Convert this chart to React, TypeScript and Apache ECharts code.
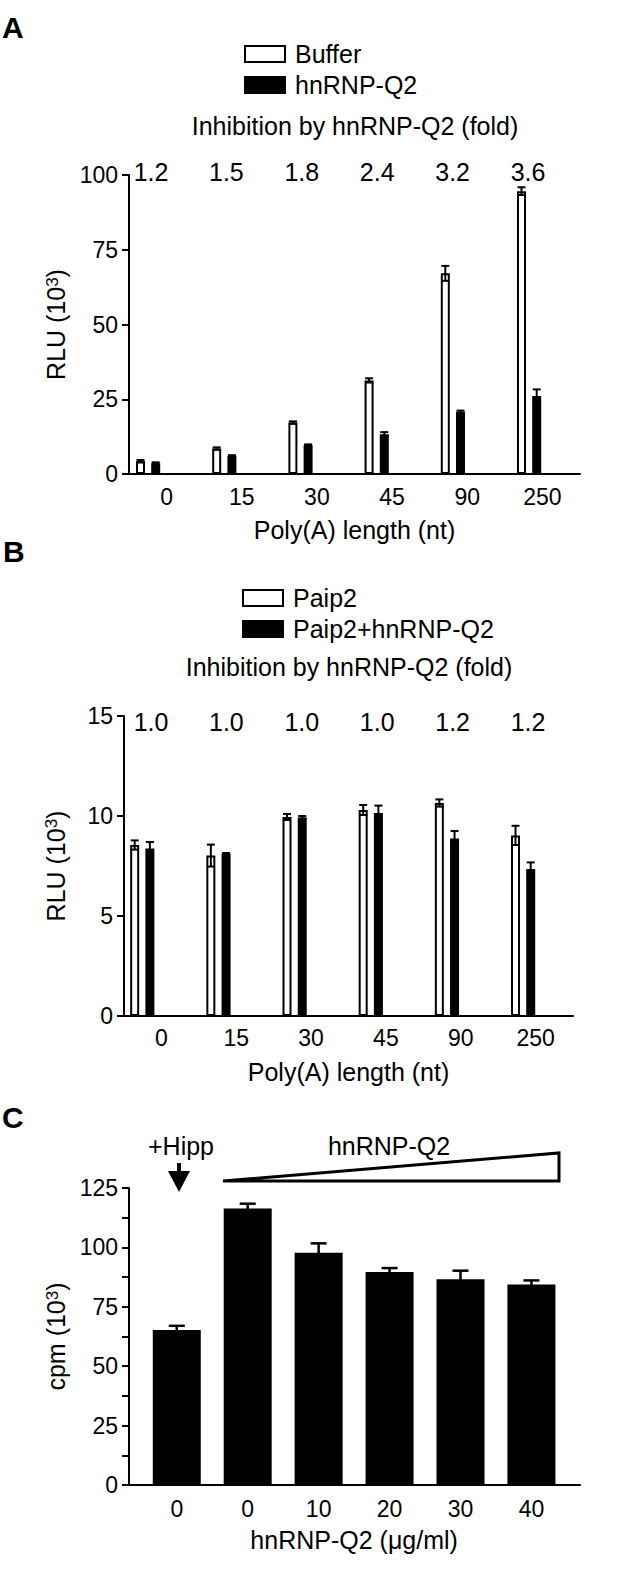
import React, { useEffect, useRef } from "react";
import * as echarts from "echarts";

// ---------- data ----------
const polyACats = ["0", "15", "30", "45", "90", "250"];

const bufferA = [4.3, 8.5, 17.2, 31.3, 67.1, 94.6];
const bufferErrA = [0.4, 0.4, 0.4, 0.7, 2.5, 1.3];
const q2A = [3.6, 6.0, 9.6, 13.3, 20.8, 26.1];
const q2ErrA = [0.3, 0.3, 0.3, 0.7, 0.4, 2.2];
const foldA = ["1.2", "1.5", "1.8", "2.4", "3.2", "3.6"];

const paip2B = [8.55, 8.02, 9.95, 10.3, 10.65, 9.03];
const paip2ErrB = [0.23, 0.55, 0.15, 0.25, 0.18, 0.48];
const paipQ2B = [8.38, 8.1, 9.93, 10.15, 8.88, 7.35];
const paipQ2ErrB = [0.32, 0.05, 0.07, 0.37, 0.37, 0.33];
const foldB = ["1.0", "1.0", "1.0", "1.0", "1.2", "1.2"];

const concC = ["0", "0", "10", "20", "30", "40"];
const cpmC = [65.2, 116.4, 97.8, 89.6, 86.6, 84.4];
const cpmErrC = [1.8, 2.0, 3.9, 1.7, 3.6, 1.7];

const yTicksA = { min: 0, max: 100, interval: 25 };
const yTicksB = { min: 0, max: 15, interval: 5 };
const yTicksC = { min: 0, max: 125, interval: 25 };

// ---------- styling ----------
const FONT = "'Liberation Sans', Arial, Helvetica, sans-serif";
const BLACK = "#000";

function errRender(offset: number, capHalf: number, lw: number) {
  return (params: any, api: any) => {
    const x = api.value(0);
    const v = api.value(1);
    const e = api.value(2);
    const top = api.coord([x, v + e]);
    const bot = api.coord([x, v - e]);
    const cx = top[0] + offset;
    const st = { stroke: BLACK, lineWidth: lw, fill: null };
    return {
      type: "group",
      children: [
        { type: "line", shape: { x1: cx, y1: bot[1], x2: cx, y2: top[1] }, style: st },
        { type: "line", shape: { x1: cx - capHalf, y1: top[1], x2: cx + capHalf, y2: top[1] }, style: st },
        { type: "line", shape: { x1: cx - capHalf, y1: bot[1], x2: cx + capHalf, y2: bot[1] }, style: st },
      ],
    };
  };
}

function errData(vals: number[], errs: number[]) {
  return vals.map((v, i) => [i, v, errs[i]]);
}

function axisY(gridIndex: number, t: any, name: string, minor = false) {
  return {
    gridIndex,
    type: "value",
    min: t.min,
    max: t.max,
    interval: t.interval,
    name,
    nameLocation: "middle",
    nameGap: 56,
    nameTextStyle: {
      fontFamily: FONT,
      fontSize: 25,
      color: BLACK,
      rich: { sup: { fontFamily: FONT, fontSize: 17, color: BLACK, verticalAlign: "top" } },
    },
    axisLine: { show: true, lineStyle: { color: BLACK, width: 2 } },
    axisTick: { show: true, length: 7, lineStyle: { color: BLACK, width: 2 } },
    minorTick: { show: minor, splitNumber: 2, length: 7, lineStyle: { color: BLACK, width: 2 } },
    axisLabel: { margin: 11, fontFamily: FONT, fontSize: 23, color: BLACK },
    splitLine: { show: false },
  };
}

function hiddenY(gridIndex: number, t: any) {
  return { gridIndex, type: "value", min: t.min, max: t.max, show: false, splitLine: { show: false } };
}

export default function App() {
  const ref = useRef<HTMLDivElement>(null);

  useEffect(() => {
    if (!ref.current) return;
    const chart = echarts.init(ref.current, undefined, { renderer: "svg" });

    const grids = [
      // A
      { left: 129, width: 451, top: 175, height: 299 },
      { left: 110, width: 457.2, top: 175, height: 299 },
      { left: 113.3, width: 452.4, top: 171.5, height: 1 },
      // B
      { left: 124, width: 449, top: 716, height: 300 },
      { left: 104.2, width: 457, top: 716, height: 300 },
      { left: 113.3, width: 452.4, top: 722, height: 1 },
      // C
      { left: 129, width: 451, top: 1188, height: 297 },
      { left: 141.3, width: 425.6, top: 1188, height: 297 },
    ];

    const catAxis = (gridIndex: number, data: string[], name: string, margin: number) => ({
      gridIndex,
      type: "category",
      data,
      name,
      nameLocation: "middle",
      nameGap: 43,
      nameTextStyle: { fontFamily: FONT, fontSize: 25, color: BLACK },
      axisLine: { show: true, lineStyle: { color: BLACK, width: 2 } },
      axisTick: { show: false },
      axisLabel: { margin, fontFamily: FONT, fontSize: 23, color: BLACK },
      splitLine: { show: false },
    });
    const hiddenCat = (gridIndex: number, data: string[]) => ({
      gridIndex,
      type: "category",
      data,
      show: false,
    });
    const foldAxis = (gridIndex: number, data: string[]) => ({
      gridIndex,
      type: "category",
      data,
      position: "top",
      axisLine: { show: false },
      axisTick: { show: false },
      axisLabel: { margin: 0, verticalAlign: "middle", fontFamily: FONT, fontSize: 25, color: BLACK },
      splitLine: { show: false },
    });

    const xAxes = [
      catAxis(0, polyACats, "Poly(A) length (nt)", 11),
      hiddenCat(1, polyACats),
      foldAxis(2, foldA),
      catAxis(3, polyACats, "Poly(A) length (nt)", 10),
      hiddenCat(4, polyACats),
      foldAxis(5, foldB),
      {
        gridIndex: 6,
        type: "value",
        min: 0,
        max: 1,
        axisLine: { show: true, onZero: false, lineStyle: { color: BLACK, width: 2 } },
        axisTick: { show: false },
        axisLabel: { show: false },
        splitLine: { show: false },
      },
      {
        gridIndex: 7,
        type: "category",
        data: concC,
        name: "hnRNP-Q2 (μg/ml)",
        nameLocation: "middle",
        nameGap: 42,
        nameTextStyle: { fontFamily: FONT, fontSize: 25, color: BLACK },
        axisLine: { show: false },
        axisTick: { show: false },
        axisLabel: { margin: 12, fontFamily: FONT, fontSize: 23, color: BLACK },
        splitLine: { show: false },
      },
    ];

    const yAxes = [
      axisY(0, yTicksA, "RLU (10{sup|3})"),
      hiddenY(1, yTicksA),
      hiddenY(2, { min: 0, max: 1 }),
      axisY(3, yTicksB, "RLU (10{sup|3})"),
      hiddenY(4, yTicksB),
      hiddenY(5, { min: 0, max: 1 }),
      axisY(6, yTicksC, "cpm (10{sup|3})", true),
      hiddenY(7, yTicksC),
    ];

    const whiteBar = { color: "#fff", borderColor: BLACK, borderWidth: 2 };
    const blackBar = { color: BLACK, borderColor: BLACK, borderWidth: 2 };

    const series: any[] = [
      { name: "Buffer", type: "bar", xAxisIndex: 1, yAxisIndex: 1, data: bufferA, barWidth: 9, barGap: "69%", itemStyle: whiteBar },
      { name: "hnRNP-Q2", type: "bar", xAxisIndex: 1, yAxisIndex: 1, data: q2A, barWidth: 9, barGap: "69%", itemStyle: blackBar },
      { type: "custom", xAxisIndex: 1, yAxisIndex: 1, data: errData(bufferA, bufferErrA), renderItem: errRender(-7.6, 4, 2), z: 5 },
      { type: "custom", xAxisIndex: 1, yAxisIndex: 1, data: errData(q2A, q2ErrA), renderItem: errRender(7.6, 4, 2), z: 5 },

      { name: "Paip2", type: "bar", xAxisIndex: 4, yAxisIndex: 4, data: paip2B, barWidth: 9, barGap: "69%", itemStyle: whiteBar },
      { name: "Paip2+hnRNP-Q2", type: "bar", xAxisIndex: 4, yAxisIndex: 4, data: paipQ2B, barWidth: 9, barGap: "69%", itemStyle: blackBar },
      { type: "custom", xAxisIndex: 4, yAxisIndex: 4, data: errData(paip2B, paip2ErrB), renderItem: errRender(-7.6, 4, 2), z: 5 },
      { type: "custom", xAxisIndex: 4, yAxisIndex: 4, data: errData(paipQ2B, paipQ2ErrB), renderItem: errRender(7.6, 4, 2), z: 5 },

      { name: "cpm", type: "bar", xAxisIndex: 7, yAxisIndex: 7, data: cpmC, barWidth: 48, itemStyle: { color: BLACK } },
      { type: "custom", xAxisIndex: 7, yAxisIndex: 7, data: errData(cpmC, cpmErrC), renderItem: errRender(0, 8, 2.5), z: 5 },
    ];

    const legendCommon = {
      orient: "vertical",
      icon: "rect",
      itemWidth: 40,
      itemHeight: 16,
      itemGap: 5,
      selectedMode: false,
      textStyle: { fontFamily: FONT, fontSize: 25, color: BLACK, lineHeight: 26, padding: [0, 0, 0, 5] },
    };

    const txt = (text: string, x: number, y: number, size: number, bold = false, align = "center") => ({
      type: "text",
      x,
      y,
      style: {
        text,
        fontFamily: FONT,
        fontSize: size,
        fontWeight: bold ? "bold" : "normal",
        fill: BLACK,
        align,
        verticalAlign: "middle",
      },
    });

    chart.setOption({
      animation: false,
      backgroundColor: "#fff",
      grid: grids,
      xAxis: xAxes,
      yAxis: yAxes,
      series,
      legend: [
        { ...legendCommon, data: ["Buffer", "hnRNP-Q2"], left: 239, top: 36 },
        { ...legendCommon, data: ["Paip2", "Paip2+hnRNP-Q2"], left: 237, top: 580 },
      ],
      graphic: [
        txt("A", 2, 27, 30, true, "left"),
        txt("B", 3, 551, 30, true, "left"),
        txt("C", 2, 1117, 30, true, "left"),
        txt("Inhibition by hnRNP-Q2 (fold)", 355, 126, 25),
        txt("Inhibition by hnRNP-Q2 (fold)", 349, 667, 25),
        txt("+Hipp", 181, 1146, 25),
        txt("hnRNP-Q2", 389, 1146, 25),
        { type: "line", shape: { x1: 179, y1: 1163, x2: 179, y2: 1174 }, style: { stroke: BLACK, lineWidth: 4 } },
        { type: "polygon", shape: { points: [[168, 1171], [190, 1171], [179, 1192]] }, style: { fill: BLACK } },
        {
          type: "polygon",
          shape: { points: [[223, 1181], [559, 1153], [559, 1181]] },
          style: { fill: "#fff", stroke: BLACK, lineWidth: 3, lineJoin: "miter" },
        },
      ],
    });

    return () => chart.dispose();
  }, []);

  return (
    <div
      ref={ref}
      style={{ position: "absolute", left: 0, top: 0, width: 636, height: 1574, background: "#fff" }}
    />
  );
}
